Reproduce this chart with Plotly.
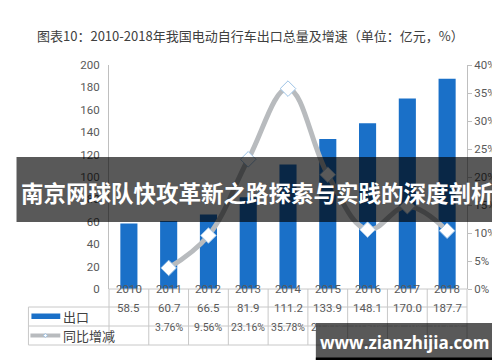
import plotly.graph_objects as go

years = ["2010", "2011", "2012", "2013", "2014", "2015", "2016", "2017", "2018"]
export_values = [58.5, 60.7, 66.5, 81.9, 111.2, 133.9, 148.1, 170.0, 187.7]
growth_values = [None, 3.76, 9.56, 23.16, 35.78, 20.41, 10.60, 14.79, 10.41]
left_ticks = [0, 20, 40, 60, 80, 100, 120, 140, 160, 180, 200]
right_ticks = [0, 5, 10, 15, 20, 25, 30, 35, 40]
series_names = ["出口", "同比增减"]
title_text = "图表10：2010-2018年我国电动自行车出口总量及增速（单位：亿元，%）"
banner_text = "南京网球队快攻革新之路探索与实践的深度剖析"
site_text = "www.zianzhijia.com"

W, H = 500, 362
L, R, T, B = 101, 39, 57, 81
PW, PH = W - L - R, H - T - B

def px(xp):
    return (xp - L) / PW

def py(yp):
    return (H - B - yp) / PH

FONT = "Noto Sans CJK SC, Noto Sans, sans-serif"
NUMFONT = "Roboto, Noto Sans, sans-serif"
BAR = "#1a70c8"
LINE = "#b8bbbe"
GRID = "#c8c8c8"
TXT = "#595959"

xs = list(range(len(years)))

fig = go.Figure()
fig.add_trace(go.Bar(x=xs, y=export_values, name=series_names[0], marker=dict(color=BAR, line=dict(width=0)),
                     width=0.43, yaxis="y"))
fig.add_trace(go.Scatter(x=xs, y=growth_values, name=series_names[1], yaxis="y2", mode="lines+markers",
                         line=dict(color=LINE, width=5, shape="spline", smoothing=1.1),
                         marker=dict(symbol="diamond", size=12, color="white",
                                     line=dict(color="#9dc3e6", width=1)),
                         connectgaps=False))

shapes = []
annotations = []

row_y = [281, 299, 318, 337]
shapes.append(dict(type="line", xref="paper", yref="paper", x0=px(101), x1=px(461), y0=py(281), y1=py(281),
                   line=dict(color=GRID, width=1)))
for yy in row_y[1:]:
    shapes.append(dict(type="line", xref="paper", yref="paper", x0=px(20), x1=px(461), y0=py(yy), y1=py(yy),
                       line=dict(color=GRID, width=1)))
for k in range(len(years) + 1):
    xx = 101 + 40 * k
    shapes.append(dict(type="line", xref="paper", yref="paper", x0=px(xx), x1=px(xx), y0=py(281), y1=py(337),
                       line=dict(color=GRID, width=1)))
shapes.append(dict(type="line", xref="paper", yref="paper", x0=px(20), x1=px(20), y0=py(299), y1=py(337),
                   line=dict(color=GRID, width=1)))

shapes.append(dict(type="rect", xref="paper", yref="paper", x0=px(23), x1=px(52), y0=py(311), y1=py(305.5),
                   fillcolor=BAR, line=dict(width=0)))
shapes.append(dict(type="line", xref="paper", yref="paper", x0=px(22), x1=px(52), y0=py(327.5), y1=py(327.5),
                   line=dict(color=LINE, width=4)))
shapes.append(dict(type="path", xref="paper", yref="paper",
                   path=f"M {px(37)} {py(325.5)} L {px(39)} {py(327.5)} L {px(37)} {py(329.5)} L {px(35)} {py(327.5)} Z",
                   fillcolor="white", line=dict(color="#9dc3e6", width=1)))

annotations.append(dict(text=series_names[0], xref="paper", yref="paper", x=px(53), y=py(308.5),
                        xanchor="left", yanchor="middle", showarrow=False, font=dict(family=FONT, size=13, color="#404040")))
annotations.append(dict(text=series_names[1], xref="paper", yref="paper", x=px(53), y=py(327.5),
                        xanchor="left", yanchor="middle", showarrow=False, font=dict(family=FONT, size=13, color="#404040")))

for i, yr in enumerate(years):
    annotations.append(dict(text=yr, xref="x", yref="paper", x=i, y=py(290), showarrow=False,
                            font=dict(family=NUMFONT, size=11.5, color=TXT)))
    annotations.append(dict(text=f"{export_values[i]:.1f}", xref="x", yref="paper", x=i, y=py(308.5), showarrow=False,
                            font=dict(family=NUMFONT, size=11.5, color=TXT)))
    if growth_values[i] is not None:
        annotations.append(dict(text=f"{growth_values[i]:.2f}%", xref="x", yref="paper", x=i, y=py(327.5),
                                showarrow=False, font=dict(family=NUMFONT, size=10.5, color=TXT)))

annotations.append(dict(text=title_text, xref="paper", yref="paper", x=px(27), y=py(28), xanchor="left",
                        yanchor="middle", showarrow=False, font=dict(family=FONT, size=13, color="#404040")))

shapes.append(dict(type="rect", xref="paper", yref="paper", x0=px(8), x1=px(493), y0=py(214), y1=py(149),
                   fillcolor="rgba(0,0,0,0.65)", line=dict(width=0), layer="above"))
annotations.append(dict(text=f"<b>{banner_text}</b>", xref="paper", yref="paper", x=px(250.5), y=py(184),
                        xanchor="center", yanchor="middle", showarrow=False,
                        font=dict(family=FONT, size=22.5, color="white")))

shapes.append(dict(type="rect", xref="paper", yref="paper", x0=px(309), x1=px(492), y0=py(352), y1=py(315),
                   fillcolor="rgba(0,0,0,0.65)", line=dict(width=0), layer="above"))
shapes.append(dict(type="rect", xref="paper", yref="paper", x0=px(309), x1=px(492), y0=py(352), y1=py(349.5),
                   fillcolor="black", line=dict(width=0), layer="above"))
annotations.append(dict(text=f"<b>{site_text}</b>", xref="paper", yref="paper", x=px(399), y=py(334),
                        xanchor="center", yanchor="middle", showarrow=False,
                        font=dict(family="Open Sans, DejaVu Sans, sans-serif", size=17, color="white")))

fig.update_layout(
    width=W, height=H,
    margin=dict(l=L, r=R, t=T, b=B),
    paper_bgcolor="white", plot_bgcolor="white",
    showlegend=False,
    font=dict(family=FONT, size=11, color=TXT),
    xaxis=dict(range=[-0.5, len(years) - 0.5], showticklabels=False, showgrid=False, zeroline=False,
               showline=False, ticks=""),
    yaxis=dict(range=[0, 200], tickvals=left_ticks, showgrid=False, zeroline=False, showline=True,
               linecolor="#bfbfbf", linewidth=1, ticks="outside", ticklen=6, tickcolor="rgba(0,0,0,0)",
               tickfont=dict(family=NUMFONT, size=11.5, color=TXT)),
    yaxis2=dict(range=[0, 40], tickvals=right_ticks, ticktext=[f"{v}%" for v in right_ticks],
                overlaying="y", side="right", showgrid=False, zeroline=False, showline=True,
                linecolor="#bfbfbf", linewidth=1, ticks="outside", ticklen=4, tickcolor="#bfbfbf",
                tickfont=dict(family=NUMFONT, size=11.5, color=TXT)),
    shapes=shapes,
    annotations=annotations,
)

fig.write_html("out.html")
